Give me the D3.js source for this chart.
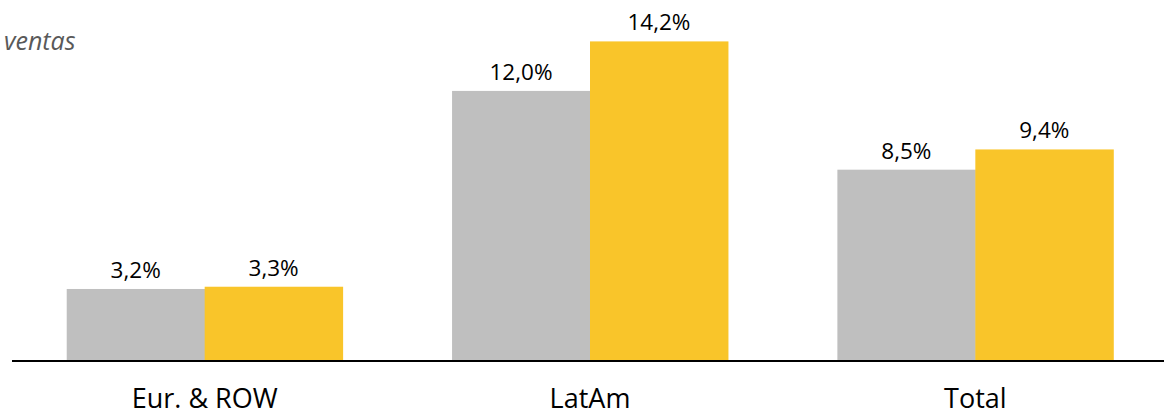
<!DOCTYPE html>
<html>
<head>
<meta charset="utf-8">
<script src="https://cdn.jsdelivr.net/npm/d3@7"></script>
<style>
  body { margin: 0; background: #fff; }
  text { font-family: "Open Sans", "Noto Sans", sans-serif; }
</style>
</head>
<body>
<div id="chart"></div>
<script>
// Data
var categories = ["Eur. & ROW", "LatAm", "Total"];
var seriesA = [3.2, 12.0, 8.5];   // gray
var seriesB = [3.3, 14.2, 9.4];   // yellow
var seriesNames = ["a", "b"];
var seriesColors = ["#bfbfbf", "#f9c52a"];

var svgWidth = 1164;
var svgHeight = 416;

var margin = { top: 0, right: 0, bottom: 55, left: 12 };
var width = svgWidth - margin.left - margin.right;
var height = svgHeight - margin.top - margin.bottom;

var svg = d3.select("#chart")
  .append("svg")
  .attr("width", svgWidth)
  .attr("height", svgHeight);

var chartGroup = svg.append("g")
  .attr("transform", `translate(${margin.left}, ${margin.top})`);

// rows for the grouped bars
var rows = categories.map(function (c, i) {
  return { cat: c, values: [seriesA[i], seriesB[i]] };
});

var x0 = d3.scaleBand()
  .domain(categories)
  .range([0, 1156])
  .paddingInner(0.284)
  .paddingOuter(0.142);

var x1 = d3.scaleBand()
  .domain(seriesNames)
  .range([0, x0.bandwidth()]);

var yScale = d3.scaleLinear()
  .domain([0, 16.04])
  .range([height, 0]);

var groups = chartGroup.selectAll(".grp")
  .data(rows)
  .enter()
  .append("g")
  .attr("class", "grp")
  .attr("transform", d => `translate(${x0(d.cat)}, 0)`);

groups.selectAll("rect")
  .data(d => d.values.map((v, i) => ({ key: seriesNames[i], v: v, i: i })))
  .enter()
  .append("rect")
  .attr("x", d => x1(d.key))
  .attr("y", d => yScale(d.v))
  .attr("width", x1.bandwidth() + 0.5)
  .attr("height", d => height - yScale(d.v))
  .attr("fill", d => seriesColors[d.i]);

// value labels
groups.selectAll(".val")
  .data(d => d.values.map((v, i) => ({ key: seriesNames[i], v: v })))
  .enter()
  .append("text")
  .attr("class", "val")
  .attr("x", d => x1(d.key) + x1.bandwidth() / 2)
  .attr("y", d => yScale(d.v) - 11)
  .attr("text-anchor", "middle")
  .style("font-size", "22.5px")
  .style("fill", "#000")
  .text(d => d3.format(".1f")(d.v).replace(".", ",") + "%");

// baseline axis
var bottomAxis = d3.axisBottom(x0).tickSize(0).tickPadding(28);
var axisG = chartGroup.append("g")
  .attr("transform", `translate(0, ${height})`)
  .call(bottomAxis);

axisG.select(".domain")
  .attr("d", `M0,0H${svgWidth}`)
  .attr("stroke", "#000")
  .attr("stroke-width", 2);

axisG.selectAll(".tick text")
  .style("font-family", "'Open Sans', 'Noto Sans', sans-serif")
  .style("font-size", "27px")
  .style("fill", "#000");

// cropped title fragment
svg.append("text")
  .attr("x", 4)
  .attr("y", 50)
  .style("font-size", "25px")
  .style("font-style", "italic")
  .style("fill", "#595959")
  .text("ventas");
</script>
</body>
</html>
